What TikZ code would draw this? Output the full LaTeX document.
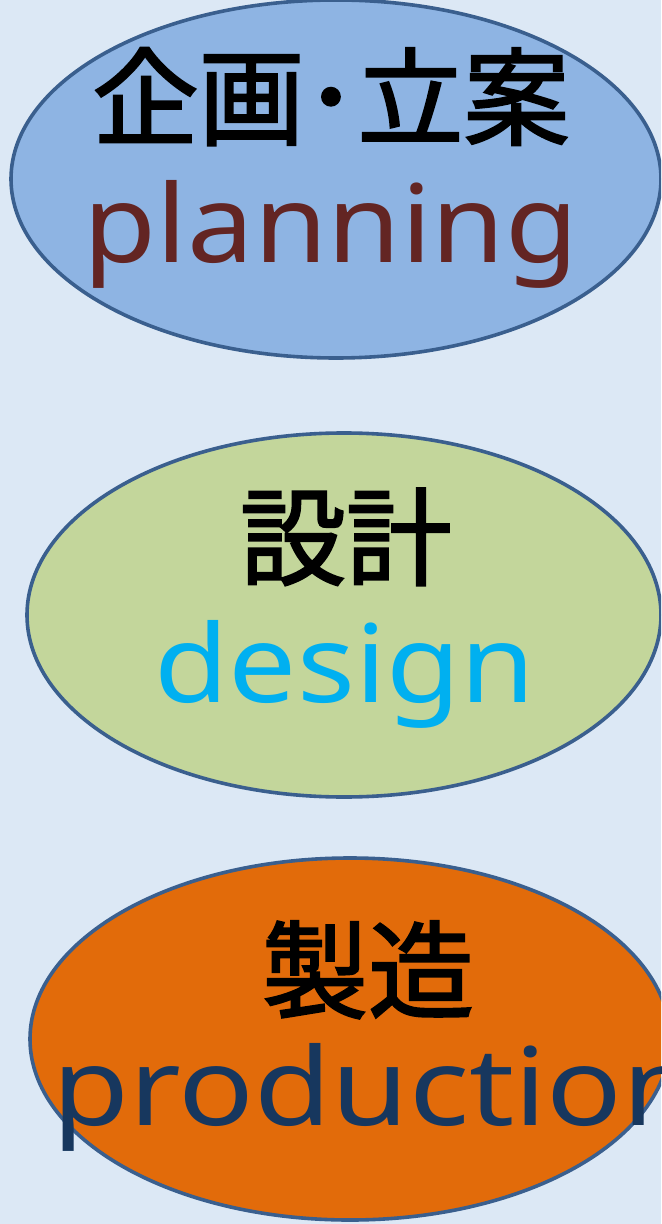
\documentclass[tikz,border=0pt]{standalone}
\usepackage{fontspec}
\setmainfont{Noto Sans}
\newfontfamily\cjk[FakeBold=2]{Noto Sans CJK JP}
\usetikzlibrary{shapes.geometric}
\definecolor{bgblue}{HTML}{DCE8F5}
\definecolor{edgeblue}{HTML}{3A5F8E}
\definecolor{planfill}{HTML}{8EB4E3}
\definecolor{desfill}{HTML}{C3D69B}
\definecolor{prodfill}{HTML}{E26B0A}
\definecolor{plantext}{HTML}{632523}
\definecolor{destext}{HTML}{00B0F0}
\definecolor{prodtext}{HTML}{17375E}
\tikzset{
  oval/.style={ellipse, draw=edgeblue, line width=1.8pt, inner sep=0pt},
  jp/.style={font=\cjk\fontsize{53pt}{53pt}\selectfont, text=black, inner sep=0pt, anchor=base},
  en/.style={font=\fontsize{54pt}{54pt}\selectfont, inner sep=0pt, anchor=base},
}
\begin{document}
\begin{tikzpicture}[x=0.5pt, y=-0.5pt]
\useasboundingbox (0,0) rectangle (661,1224);
\clip (0,0) rectangle (661,1224);
\fill[bgblue] (0,0) rectangle (661,1224);
\node[oval, fill=planfill, minimum width=650*0.5pt, minimum height=358*0.5pt] (e1) at (336,179) {};
\node[oval, fill=desfill, minimum width=634*0.5pt, minimum height=364*0.5pt] (e2) at (344,615) {};
\node[oval, fill=prodfill, minimum width=640*0.5pt, minimum height=362*0.5pt] (e3) at (350,1039) {};
\node[jp] (t1) at (331,137) {企画･立案};
\node[en, text=plantext] (s1) at (331,263) {\scalebox{1.1}[1]{planning}};
\node[jp] (t2) at (346,577) {設計};
\node[jp] (t3) at (368,1010) {製造};
\node[en, text=destext] (s2) at (345,702) {\scalebox{1.12}[1]{design}};
\node[en, text=prodtext, anchor=base west] (s3) at (52,1125) {\scalebox{1.16}[1]{production}};
\end{tikzpicture}
\end{document}
